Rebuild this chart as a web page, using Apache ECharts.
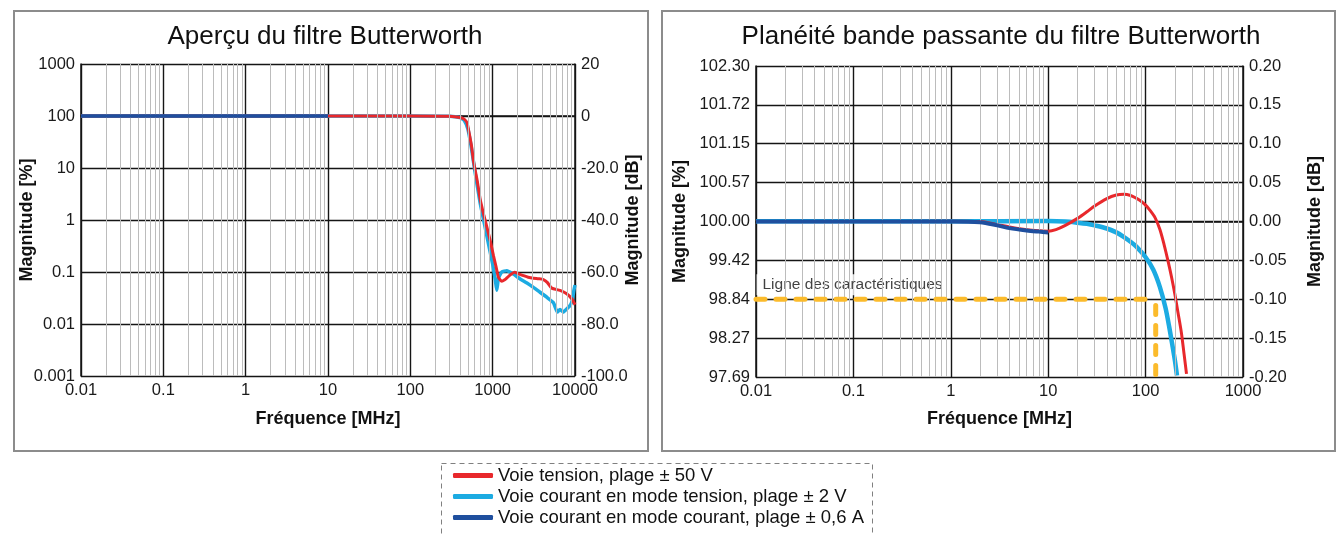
<!DOCTYPE html>
<html>
<head>
<meta charset="utf-8">
<script src="https://cdn.jsdelivr.net/npm/echarts@6/dist/echarts.min.js"></script>
<style>
  html, body { margin: 0; padding: 0; background: #fff; }
  #chart { width: 1339px; height: 535px; }
</style>
</head>
<body>
<div id="chart"></div>
<script>
// ---- Series names (legend) ----
const seriesNames = [
  'Voie tension, plage \u00b1 50 V',
  'Voie courant en mode tension, plage \u00b1 2 V',
  'Voie courant en mode courant, plage \u00b1 0,6 A'
];

// ---- Overview chart: frequency [MHz] / magnitude [dB] ----
const ovTensionMHz = [0.01, 10, 100, 300, 404, 450, 487, 509, 550, 586, 650, 705, 780, 865, 950, 1024, 1100, 1175, 1291, 1400, 1485, 1650, 1836, 2100, 2366, 2700, 3126, 3600, 4130, 4600, 5212, 6576, 7925, 9120, 10000];
const ovTensionDb = [0, 0, 0, -0.1, -0.6, -1.2, -2.5, -5.3, -11, -17.5, -25, -32, -38, -43.6, -49, -53.8, -58, -62, -63.6, -63, -62.3, -61, -60.1, -60.8, -61.4, -62, -62.4, -62.6, -62.9, -64, -66.2, -67.1, -68.4, -70.3, -72.6];

const ovCourantTensionMHz = [0.01, 10, 100, 300, 400, 450, 500, 550, 600, 700, 800, 900, 1000, 1073, 1122, 1175, 1290, 1485, 1786, 2158, 2608, 3126, 3760, 4540, 5470, 6100, 6576, 7200, 7925, 8700, 9250, 9700, 10000];
const ovCourantTensionDb = [0, 0, 0, -0.1, -0.6, -1.6, -5, -12, -20, -33, -42, -50, -57, -62.7, -67, -62.4, -60, -59.5, -60.8, -62.7, -64.2, -65.9, -67.8, -69.7, -71.8, -75.4, -74.4, -75.4, -74.2, -72.9, -71, -67, -65];

const ovCourantCourantMHz = [0.01, 1, 10];
const ovCourantCourantDb = [0, 0, 0];

// Overview axis tick labels
const ovFreqTicks = ['0.01', '0.1', '1', '10', '100', '1000', '10000'];
const ovPctTicks = ['0.001', '0.01', '0.1', '1', '10', '100', '1000'];
const ovDbTicks = ['-100.0', '-80.0', '-60.0', '-40.0', '-20.0', '0', '20'];

// ---- Passband flatness chart: frequency [MHz] / magnitude [dB] ----
const pbTensionMHz = [0.01, 0.1, 1, 2, 3, 4, 6, 8, 10, 12, 15, 20, 25, 30, 40, 50, 60, 70, 80, 90, 100, 110, 125, 140, 155, 170, 185, 200, 215, 233, 248, 263];
const pbTensionDb = [0, 0, 0.0003, 0, -0.004, -0.007, -0.0105, -0.012, -0.0125, -0.0105, -0.005, 0.004, 0.0125, 0.02, 0.0295, 0.034, 0.035, 0.0335, 0.030, 0.026, 0.021, 0.015, 0.005, -0.010, -0.030, -0.051, -0.072, -0.094, -0.117, -0.143, -0.170, -0.196];

const pbCourantTensionMHz = [0.01, 0.1, 1, 10, 15, 20, 25, 30, 40, 50, 60, 70, 80, 100, 120, 140, 160, 175, 190, 200, 210];
const pbCourantTensionDb = [0.0004, 0.0004, 0.0004, 0.0005, 0, -0.0015, -0.003, -0.005, -0.009, -0.014, -0.020, -0.026, -0.032, -0.046, -0.062, -0.084, -0.111, -0.136, -0.162, -0.179, -0.198];

const pbCourantCourantMHz = [0.01, 0.1, 1, 2, 3, 4, 6, 8, 10];
const pbCourantCourantDb = [0, 0, 0, -0.001, -0.005, -0.0085, -0.0115, -0.013, -0.014];

// Characteristic line (spec limit) and its corner frequency
const specLabel = 'Ligne des caract\u00e9ristiques';
const specLevelDb = -0.10;
const specEndMHz = 118;
const specCornerMHz = 127;
const specBottomDb = -0.20;
const specLabelDb = -0.0815;

// Passband axis tick labels
const pbFreqTicks = ['0.01', '0.1', '1', '10', '100', '1000'];
const pbPctTicks = ['97.69', '98.27', '98.84', '99.42', '100.00', '100.57', '101.15', '101.72', '102.30'];
const pbDbTicks = ['-0.20', '-0.15', '-0.10', '-0.05', '0.00', '0.05', '0.10', '0.15', '0.20'];

// ---- Styling ----
const FONT = '"Liberation Sans", Arial, Helvetica, sans-serif';
const colTension = '#e8282c';
const colCourantTension = '#1cabe2';
const colCourantCourant = '#1f4f9e';
const colSpec = '#fbbb2c';
const gridColor = '#151515';
const minorColor = '#bcbcbc';

const zip = (xs, ys) => xs.map((x, i) => [x, ys[i]]);

// log-decade minor grid positions (2..9 x 10^e)
function minorLines(eMin, eMax) {
  const out = [];
  for (let e = eMin; e < eMax; e++) {
    for (let m = 2; m <= 9; m++) out.push({ xAxis: +(m * Math.pow(10, e)).toPrecision(3) });
  }
  return out;
}

const tickLabel = { fontFamily: FONT, fontSize: 16.5, color: '#1a1a1a' };
const axisName = { fontFamily: FONT, fontSize: 18, fontWeight: 'bold', color: '#111' };

function freqAxis(gridIndex, min, max, labels, nameGap) {
  const e0 = Math.round(Math.log10(min));
  return {
    type: 'log', logBase: 10, gridIndex, min, max,
    name: 'Fr\u00e9quence [MHz]', nameLocation: 'middle', nameGap, nameMoveOverlap: false,
    nameTextStyle: axisName,
    axisLine: { show: true, lineStyle: { color: gridColor, width: 1.5 } },
    axisTick: { show: false },
    splitLine: { show: true, lineStyle: { color: gridColor, width: 1.4 } },
    minorSplitLine: { show: false },
    axisLabel: Object.assign({ margin: 6, formatter: v => labels[Math.round(Math.log10(v)) - e0] }, tickLabel)
  };
}

function levelAxis(gridIndex, position, min, max, interval, labels, name, nameGap, split) {
  return {
    type: 'value', gridIndex, position, min, max, interval,
    name, nameLocation: 'middle', nameGap, nameMoveOverlap: false, nameTextStyle: axisName,
    axisLine: { show: true, lineStyle: { color: gridColor, width: 1.5 } },
    axisTick: { show: false },
    splitLine: { show: split, lineStyle: { color: gridColor, width: 1.4 } },
    axisLabel: Object.assign({ margin: 6, formatter: v => labels[Math.round((v - min) / interval)] }, tickLabel)
  };
}

const chart = echarts.init(document.getElementById('chart'), null, { renderer: 'canvas' });

const option = {
  backgroundColor: '#ffffff',
  animation: false,
  textStyle: { fontFamily: FONT },
  grid: [
    { left: 81, top: 64, width: 494, height: 312 },
    { left: 756, top: 66, width: 487, height: 311 }
  ],
  xAxis: [
    freqAxis(0, 0.01, 10000, ovFreqTicks, 34),
    freqAxis(1, 0.01, 1000, pbFreqTicks, 33)
  ],
  yAxis: [
    levelAxis(0, 'left', -100, 20, 20, ovPctTicks, 'Magnitude [%]', 45, true),
    levelAxis(0, 'right', -100, 20, 20, ovDbTicks, 'Magnitude [dB]', 49, false),
    levelAxis(1, 'left', -0.2, 0.2, 0.05, pbPctTicks, 'Magnitude [%]', 67, true),
    levelAxis(1, 'right', -0.2, 0.2, 0.05, pbDbTicks, 'Magnitude [dB]', 63, false)
  ],
  legend: {
    orient: 'vertical', left: 453, top: 466, padding: 0,
    itemWidth: 40, itemHeight: 5, itemGap: 2, icon: 'roundRect',
    data: seriesNames,
    selectedMode: false,
    textStyle: { fontFamily: FONT, fontSize: 18.5, color: '#111' }
  },
  graphic: [
    { type: 'rect', shape: { x: 14, y: 11, width: 634, height: 440 }, style: { fill: null, stroke: '#8c8c8c', lineWidth: 2 }, silent: true },
    { type: 'rect', shape: { x: 662, y: 11, width: 673, height: 440 }, style: { fill: null, stroke: '#8c8c8c', lineWidth: 2 }, silent: true },
    { type: 'rect', shape: { x: 441.5, y: 463.5, width: 431, height: 90 }, style: { fill: null, stroke: '#808080', lineWidth: 1, lineDash: [5, 4] }, silent: true },
    { type: 'text', x: 325, y: 37, style: { text: 'Aper\u00e7u du filtre Butterworth', fontFamily: FONT, fontSize: 26, fill: '#111', align: 'center', verticalAlign: 'middle' }, silent: true },
    { type: 'text', x: 1001, y: 37, style: { text: 'Plan\u00e9it\u00e9 bande passante du filtre Butterworth', fontFamily: FONT, fontSize: 26, fill: '#111', align: 'center', verticalAlign: 'middle' }, silent: true }
  ],
  series: [
    // minor log grid lines
    {
      type: 'line', xAxisIndex: 0, yAxisIndex: 0, data: [], silent: true, z: 1,
      markLine: { silent: true, symbol: 'none', animation: false, label: { show: false },
        lineStyle: { color: minorColor, width: 1, type: 'solid' }, data: minorLines(-2, 4) }
    },
    {
      type: 'line', xAxisIndex: 1, yAxisIndex: 2, data: [], silent: true, z: 1,
      markLine: { silent: true, symbol: 'none', animation: false, label: { show: false },
        lineStyle: { color: minorColor, width: 1, type: 'solid' }, data: minorLines(-2, 3) }
    },

    // overview
    { name: seriesNames[1], type: 'line', xAxisIndex: 0, yAxisIndex: 1, z: 3, showSymbol: false, smooth: 0.15,
      color: colCourantTension, lineStyle: { width: 3.5, color: colCourantTension },
      data: zip(ovCourantTensionMHz, ovCourantTensionDb) },
    { name: seriesNames[0], type: 'line', xAxisIndex: 0, yAxisIndex: 1, z: 4, showSymbol: false, smooth: 0.2,
      color: colTension, lineStyle: { width: 3, color: colTension },
      data: zip(ovTensionMHz, ovTensionDb) },
    { name: seriesNames[2], type: 'line', xAxisIndex: 0, yAxisIndex: 1, z: 5, showSymbol: false,
      color: colCourantCourant, lineStyle: { width: 3.5, color: colCourantCourant },
      data: zip(ovCourantCourantMHz, ovCourantCourantDb) },

    // passband flatness
    { name: seriesNames[1], type: 'line', xAxisIndex: 1, yAxisIndex: 3, z: 3, showSymbol: false, smooth: 0.3,
      color: colCourantTension, lineStyle: { width: 4.5, color: colCourantTension },
      data: zip(pbCourantTensionMHz, pbCourantTensionDb) },
    { name: seriesNames[0], type: 'line', xAxisIndex: 1, yAxisIndex: 3, z: 4, showSymbol: false, smooth: 0.3,
      color: colTension, lineStyle: { width: 3, color: colTension },
      data: zip(pbTensionMHz, pbTensionDb) },
    { name: seriesNames[2], type: 'line', xAxisIndex: 1, yAxisIndex: 3, z: 5, showSymbol: false, smooth: 0.3,
      color: colCourantCourant, lineStyle: { width: 4, color: colCourantCourant },
      data: zip(pbCourantCourantMHz, pbCourantCourantDb) },

    // characteristic line
    { type: 'line', xAxisIndex: 1, yAxisIndex: 3, z: 6, showSymbol: false, silent: true,
      lineStyle: { width: 5, color: colSpec, type: [9, 11], cap: 'round' },
      data: [[0.01, specLevelDb], [specEndMHz, specLevelDb]] },
    { type: 'line', xAxisIndex: 1, yAxisIndex: 3, z: 6, showSymbol: false, silent: true,
      lineStyle: { width: 5, color: colSpec, type: [9, 11], cap: 'round' },
      data: [[specCornerMHz, specLevelDb - 0.008], [specCornerMHz, specBottomDb]] },
    { type: 'scatter', xAxisIndex: 1, yAxisIndex: 3, z: 2, silent: true, symbolSize: 1,
      itemStyle: { color: 'rgba(0,0,0,0)' },
      label: { show: true, position: 'right', distance: 0, formatter: specLabel,
        fontFamily: FONT, fontSize: 15.5, color: '#111', backgroundColor: '#ffffff', padding: [3, 6, 2, 6] },
      data: [[0.01, specLabelDb]] }
  ]
};

chart.setOption(option);
</script>
</body>
</html>
